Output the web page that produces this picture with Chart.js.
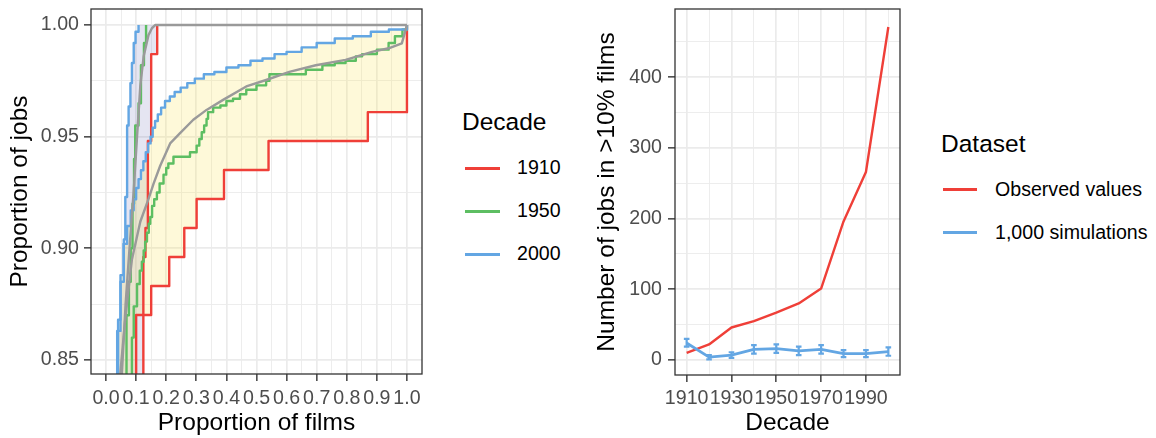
<!DOCTYPE html>
<html>
<head>
<meta charset="utf-8">
<script src="https://cdn.jsdelivr.net/npm/chart.js@4.4.1/dist/chart.umd.min.js"></script>
<style>
  html, body { margin: 0; padding: 0; background: #fff; }
  body { width: 1156px; height: 438px; position: relative; overflow: hidden;
         font-family: 'Liberation Sans', Arial, Helvetica, sans-serif; }
  canvas { position: absolute; top: 0; }
  .lg { position: absolute; white-space: nowrap; line-height: 1; color: #000; }
  .key { position: absolute; height: 3px; }
</style>
</head>
<body>
<canvas id="cumulative" width="440" height="438" style="left:0"></canvas>
<canvas id="counts" width="330" height="438" style="left:590px"></canvas>
<div id="legends"></div>
<script>
// ---- Left panel: cumulative share of jobs against share of films ----
const filmTicks = [0.0, 0.1, 0.2, 0.3, 0.4, 0.5, 0.6, 0.7, 0.8, 0.9, 1.0];
const filmMinor = [0.05, 0.15, 0.25, 0.35, 0.45, 0.55, 0.65, 0.75, 0.85, 0.95];
const jobTicks = [0.85, 0.90, 0.95, 1.00];
const jobMinor = [0.875, 0.925, 0.975];

// Step curves: at each x the curve rises to the paired y, then runs flat to the next x.
const steep1910X = [0, 0.124, 0.131, 0.139, 0.150, 0.170];
const steep1910Y = [0, 0.8961, 0.9091, 0.9481, 0.9870, 1.000];
const wide1910X = [0, 0.100, 0.150, 0.210, 0.260, 0.301, 0.392, 0.540, 0.870, 1.000];
const wide1910Y = [0, 0.8701, 0.8831, 0.8961, 0.9091, 0.9221, 0.9351, 0.9481, 0.9610, 1.000];

const steep1950X = [0, 0.068, 0.076, 0.082, 0.088, 0.093, 0.097, 0.108, 0.116, 0.126, 0.133];
const steep1950Y = [0, 0.870, 0.885, 0.900, 0.920, 0.940, 0.955, 0.965, 0.982, 0.992, 1.000];
const wide1950X = [0, 0.086, 0.092, 0.103, 0.112, 0.119, 0.125, 0.130, 0.136, 0.142, 0.147, 0.153,
  0.160, 0.169, 0.178, 0.191, 0.200, 0.207, 0.224, 0.279, 0.301, 0.310, 0.318, 0.326, 0.334, 0.339,
  0.356, 0.380, 0.400, 0.422, 0.445, 0.466, 0.500, 0.532, 0.543, 0.664, 0.719, 0.760, 0.796, 0.830,
  0.851, 0.900, 0.939, 0.960, 0.985, 1.000];
const wide1950Y = [0, 0.860, 0.874, 0.884, 0.890, 0.894, 0.899, 0.903, 0.907, 0.911, 0.914, 0.919,
  0.922, 0.925, 0.929, 0.933, 0.936, 0.938, 0.941, 0.943, 0.946, 0.949, 0.952, 0.955, 0.958, 0.961,
  0.963, 0.964, 0.966, 0.967, 0.969, 0.971, 0.973, 0.975, 0.978, 0.980, 0.982, 0.983, 0.984, 0.986,
  0.987, 0.989, 0.992, 0.995, 0.998, 1.000];

const steep2000X = [0, 0.037, 0.048, 0.059, 0.064, 0.070, 0.075, 0.081, 0.086, 0.092, 0.098, 0.108];
const steep2000Y = [0, 0.863, 0.885, 0.904, 0.923, 0.955, 0.9635, 0.974, 0.983, 0.992, 0.997, 1.000];
const wide2000X = [0, 0.040, 0.048, 0.058, 0.070, 0.082, 0.092, 0.100, 0.108, 0.116, 0.124, 0.132,
  0.140, 0.148, 0.155, 0.163, 0.172, 0.183, 0.196, 0.212, 0.228, 0.248, 0.270, 0.295, 0.325, 0.360,
  0.400, 0.440, 0.480, 0.520, 0.560, 0.600, 0.650, 0.700, 0.760, 0.820, 0.880, 0.940, 1.000];
const wide2000Y = [0, 0.868, 0.888, 0.902, 0.910, 0.917, 0.922, 0.927, 0.931, 0.935, 0.939, 0.943,
  0.947, 0.950, 0.954, 0.957, 0.960, 0.963, 0.966, 0.968, 0.970, 0.972, 0.974, 0.976, 0.978, 0.979,
  0.981, 0.982, 0.984, 0.985, 0.987, 0.988, 0.990, 0.992, 0.994, 0.995, 0.997, 0.998, 1.000];

// Smooth grey reference curves
const refSteepX = [0.045, 0.053, 0.065, 0.078, 0.092, 0.103, 0.114, 0.125, 0.141, 0.152, 0.163, 1.000];
const refSteepY = [0.820, 0.845, 0.875, 0.900, 0.926, 0.950, 0.973, 0.986, 0.9955, 0.9985, 1.000, 1.000];
const refWideX = [0.040, 0.048, 0.065, 0.086, 0.114, 0.141, 0.158, 0.180, 0.213, 0.246, 0.290, 0.334,
  0.389, 0.466, 0.532, 0.609, 0.697, 0.796, 0.884, 0.939, 0.983, 1.000];
const refWideY = [0.820, 0.845, 0.870, 0.895, 0.912, 0.922, 0.929, 0.937, 0.947, 0.9516, 0.9576, 0.962,
  0.9665, 0.9725, 0.9754, 0.979, 0.982, 0.9844, 0.988, 0.9896, 0.9918, 1.000];

// ---- Right panel: jobs in films above 10% ----
const decades = [1910, 1920, 1930, 1940, 1950, 1960, 1970, 1980, 1990, 2000];
const observedJobs = [10, 22, 46, 55, 67, 80, 101, 196, 266, 471];
const simulatedJobs = [24, 4, 7, 15, 16, 13, 15, 9, 9, 12];
const simulatedLow = [19, 1, 3, 9, 10, 7, 9, 4, 4, 6];
const simulatedHigh = [30, 7, 11, 21, 22, 19, 21, 14, 14, 18];
const decadeTicks = [1910, 1930, 1950, 1970, 1990];
const decadeMinor = [1920, 1940, 1960, 1980, 2000];
const countTicks = [0, 100, 200, 300, 400];
const countMinor = [50, 150, 250, 350, 450];

const RED = '#EF3F38', GREEN = '#5DBE62', BLUE = '#63A6E3', GREY = '#9A9A9A';
const FONT = "'Liberation Sans', Arial, Helvetica, sans-serif";
const TICK_FONT = { family: FONT, size: 19.6 };
const TITLE_FONT = { family: FONT, size: 24.5 };

function xy(xs, ys) { return xs.map((x, i) => ({ x, y: ys[i] })); }
function stepPoints(xs, ys) {
  const pts = [];
  for (let i = 0; i < xs.length; i++) {
    if (i > 0) pts.push({ x: xs[i], y: ys[i - 1] });
    pts.push({ x: xs[i], y: ys[i] });
  }
  return pts;
}
function lineSet(data, color, width) {
  return { data, borderColor: color, borderWidth: width, pointRadius: 0, tension: 0,
           fill: false, clip: 0, borderJoinStyle: 'round', borderCapStyle: 'butt' };
}
function gridFor(majors) {
  const isMajor = c => c.tick && majors.includes(c.tick.value);
  return {
    color: '#EBEBEB',
    lineWidth: c => isMajor(c) ? 1.7 : 0.9,
    tickColor: c => isMajor(c) ? '#333333' : 'rgba(0,0,0,0)',
    tickWidth: 1.4,
    tickLength: 7,
    drawTicks: true
  };
}
function tickList(majors, minors) {
  return majors.concat(minors).sort((a, b) => a - b).map(v => ({ value: v }));
}

const panelBorder = {
  id: 'panelBorder',
  afterDatasetsDraw(chart) {
    const { ctx, chartArea: a } = chart;
    ctx.save();
    ctx.strokeStyle = '#333333';
    ctx.lineWidth = 1.3;
    ctx.strokeRect(a.left, a.top, a.right - a.left, a.bottom - a.top);
    ctx.restore();
  }
};

// Shaded bands between the 2000 and 1910 curves
const bands = [
  { upper: [steep2000X, steep2000Y], lower: [steep1910X, steep1910Y], color: 'rgba(95,95,175,0.16)' },
  { upper: [wide2000X, wide2000Y], lower: [wide1910X, wide1910Y], color: 'rgba(250,228,80,0.22)' }
];
const bandFill = {
  id: 'bandFill',
  beforeDatasetsDraw(chart) {
    const { ctx, chartArea: a, scales: { x, y } } = chart;
    ctx.save();
    ctx.beginPath();
    ctx.rect(a.left, a.top, a.right - a.left, a.bottom - a.top);
    ctx.clip();
    for (const b of bands) {
      const pts = stepPoints(b.upper[0], b.upper[1]).concat(stepPoints(b.lower[0], b.lower[1]).reverse());
      ctx.beginPath();
      pts.forEach((p, i) => {
        const px = x.getPixelForValue(p.x), py = y.getPixelForValue(p.y);
        if (i) ctx.lineTo(px, py); else ctx.moveTo(px, py);
      });
      ctx.closePath();
      ctx.fillStyle = b.color;
      ctx.fill();
    }
    ctx.restore();
  }
};

new Chart(document.getElementById('cumulative'), {
  type: 'line',
  data: {
    datasets: [
      lineSet(xy(refSteepX, refSteepY), GREY, 2.4),
      lineSet(xy(refWideX, refWideY), GREY, 2.4),
      lineSet(stepPoints(steep2000X, steep2000Y), BLUE, 2.4),
      lineSet(stepPoints(wide2000X, wide2000Y), BLUE, 2.4),
      lineSet(stepPoints(steep1950X, steep1950Y), GREEN, 2.4),
      lineSet(stepPoints(wide1950X, wide1950Y), GREEN, 2.4),
      lineSet(stepPoints(steep1910X, steep1910Y), RED, 2.4),
      lineSet(stepPoints(wide1910X, wide1910Y), RED, 2.4)
    ]
  },
  options: {
    responsive: false, animation: false, devicePixelRatio: 1,
    layout: { padding: { left: 0, right: 18, top: 9, bottom: 0 } },
    plugins: { legend: { display: false }, tooltip: { enabled: false } },
    scales: {
      x: {
        type: 'linear', min: -0.05, max: 1.05,
        afterBuildTicks: s => { s.ticks = tickList(filmTicks, filmMinor); },
        afterFit: s => { s.height = 64; s.paddingLeft = 0; s.paddingRight = 0; },
        grid: gridFor(filmTicks),
        border: { display: false },
        ticks: {
          autoSkip: false, maxRotation: 0, minRotation: 0, padding: 6,
          color: '#4D4D4D', font: TICK_FONT,
          callback: v => filmTicks.includes(v) ? v.toFixed(1) : ''
        },
        title: { display: true, text: 'Proportion of films', color: '#000', font: TITLE_FONT,
                 padding: { top: 0, bottom: 0.5 } }
      },
      y: {
        type: 'linear', min: 0.8437, max: 1.0072,
        afterBuildTicks: s => { s.ticks = tickList(jobTicks, jobMinor); },
        afterFit: s => { s.width = 91; s.paddingTop = 0; s.paddingBottom = 0; },
        grid: gridFor(jobTicks),
        border: { display: false },
        ticks: {
          autoSkip: false, padding: 5, color: '#4D4D4D', font: TICK_FONT,
          callback: v => jobTicks.includes(v) ? v.toFixed(2) : ''
        },
        title: { display: true, text: 'Proportion of jobs', color: '#000', font: TITLE_FONT,
                 padding: { top: 5.5, bottom: 0 } }
      }
    }
  },
  plugins: [bandFill, panelBorder]
});

// Interval whiskers for the simulated counts
const whiskers = {
  id: 'whiskers',
  afterDatasetsDraw(chart) {
    const { ctx, scales: { x, y } } = chart;
    ctx.save();
    ctx.strokeStyle = BLUE;
    ctx.lineWidth = 2.2;
    decades.forEach((d, i) => {
      const px = x.getPixelForValue(d);
      const lo = y.getPixelForValue(simulatedLow[i]);
      const hi = y.getPixelForValue(simulatedHigh[i]);
      ctx.beginPath();
      ctx.moveTo(px, lo); ctx.lineTo(px, hi);
      ctx.moveTo(px - 2.8, lo); ctx.lineTo(px + 2.8, lo);
      ctx.moveTo(px - 2.8, hi); ctx.lineTo(px + 2.8, hi);
      ctx.stroke();
    });
    ctx.restore();
  }
};

new Chart(document.getElementById('counts'), {
  type: 'line',
  data: {
    datasets: [
      lineSet(xy(decades, simulatedJobs), BLUE, 2.8),
      lineSet(xy(decades, observedJobs), RED, 2.4)
    ]
  },
  options: {
    responsive: false, animation: false, devicePixelRatio: 1,
    layout: { padding: { left: 0, right: 20, top: 9, bottom: 0 } },
    plugins: { legend: { display: false }, tooltip: { enabled: false } },
    scales: {
      x: {
        type: 'linear', min: 1904.8, max: 2005.2,
        afterBuildTicks: s => { s.ticks = tickList(decadeTicks, decadeMinor); },
        afterFit: s => { s.height = 63; s.paddingLeft = 0; s.paddingRight = 0; },
        grid: gridFor(decadeTicks),
        border: { display: false },
        ticks: {
          autoSkip: false, maxRotation: 0, minRotation: 0, padding: 4.5,
          color: '#4D4D4D', font: TICK_FONT,
          callback: v => decadeTicks.includes(v) ? String(v) : ''
        },
        title: { display: true, text: 'Decade', color: '#000', font: TITLE_FONT,
                 padding: { top: 0, bottom: 0.5 } }
      },
      y: {
        type: 'linear', min: -21.2, max: 496.5,
        afterBuildTicks: s => { s.ticks = tickList(countTicks, countMinor); },
        afterFit: s => { s.width = 85; s.paddingTop = 0; s.paddingBottom = 0; },
        grid: gridFor(countTicks),
        border: { display: false },
        ticks: {
          autoSkip: false, padding: 6, color: '#4D4D4D', font: TICK_FONT,
          callback: v => countTicks.includes(v) ? String(v) : ''
        },
        title: { display: true, text: 'Number of jobs in >10% films', color: '#000', font: TITLE_FONT,
                 padding: { top: 3, bottom: 0 } }
      }
    }
  },
  plugins: [whiskers, panelBorder]
});

// ---- Legends ----
const decadeLegend = { title: 'Decade', left: 462, titleMid: 122, keyLeft: 465, keyWidth: 35, textLeft: 517,
  items: [['1910', RED, 168], ['1950', GREEN, 211], ['2000', BLUE, 254]] };
const datasetLegend = { title: 'Dataset', left: 941, titleMid: 144, keyLeft: 943, keyWidth: 34, textLeft: 995,
  items: [['Observed values', RED, 189.5], ['1,000 simulations', BLUE, 232.5]] };

function placeText(text, left, capMid, size) {
  const el = document.createElement('div');
  el.className = 'lg';
  el.textContent = text;
  el.style.left = left + 'px';
  el.style.fontSize = size + 'px';
  el.style.top = (capMid - 0.4885 * size) + 'px';
  document.getElementById('legends').appendChild(el);
}
for (const lg of [decadeLegend, datasetLegend]) {
  placeText(lg.title, lg.left, lg.titleMid, 24.5);
  for (const [label, color, mid] of lg.items) {
    const k = document.createElement('div');
    k.className = 'key';
    k.style.left = lg.keyLeft + 'px';
    k.style.width = lg.keyWidth + 'px';
    k.style.top = (mid - 1.5) + 'px';
    k.style.background = color;
    document.getElementById('legends').appendChild(k);
    placeText(label, lg.textLeft, mid, 19.6);
  }
}
</script>
</body>
</html>
